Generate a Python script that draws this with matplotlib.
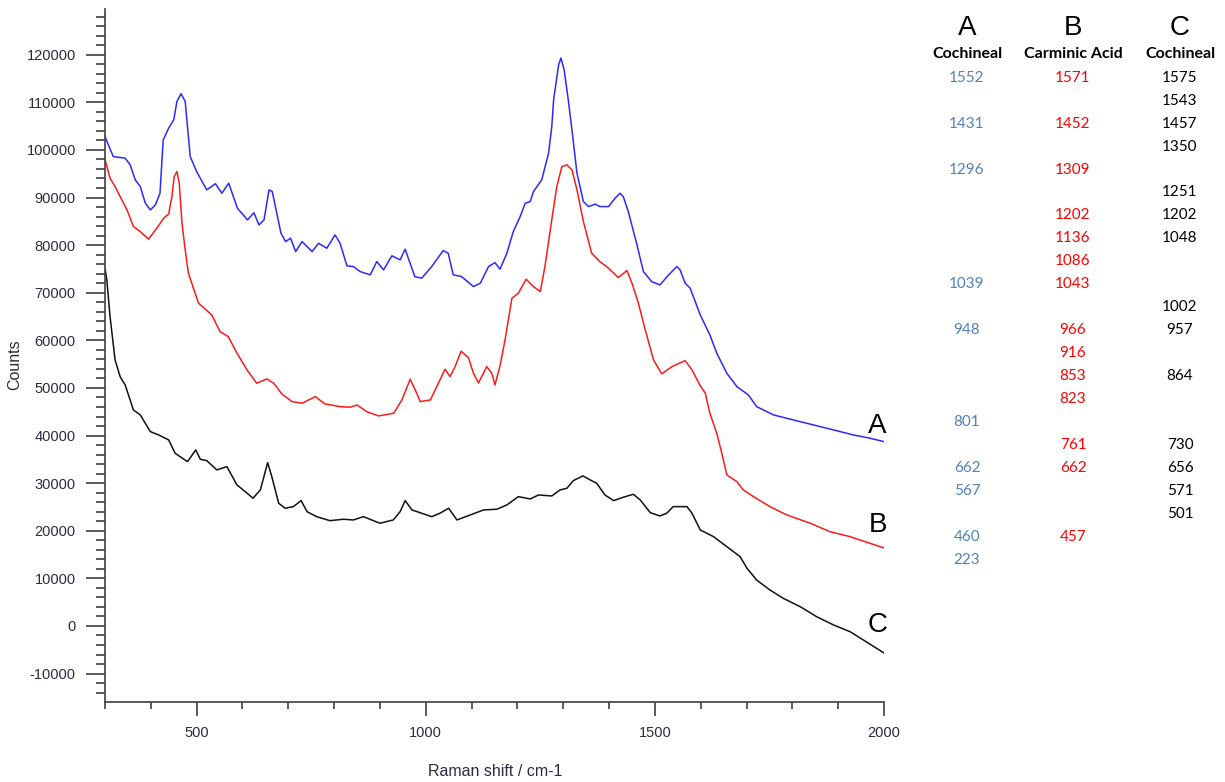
import numpy as np
import matplotlib
matplotlib.use("Agg")
import matplotlib.pyplot as plt
from matplotlib.ticker import MultipleLocator

plt.rcParams["axes.unicode_minus"] = False

# Raman spectra (Raman shift in cm-1, counts)
# A - cochineal (blue)
blue_x = [300, 318, 344, 355, 366, 377, 388, 399, 410, 420, 427, 439, 450, 457,
          466, 475, 486, 500, 522, 541, 555, 570, 589, 611, 625, 636, 647, 658,
          665, 684, 694, 705, 716, 730, 752, 766, 784, 802, 813, 828, 842, 857,
          879, 893, 908, 926, 944, 955, 976, 991, 1013, 1038, 1049, 1060, 1078,
          1104, 1119, 1137, 1151, 1162, 1177, 1191, 1206, 1217, 1228, 1235, 1253,
          1268, 1275, 1279, 1290, 1295, 1302, 1311, 1319, 1330, 1344, 1355, 1370,
          1380, 1399, 1413, 1424, 1431, 1442, 1460, 1475, 1493, 1511, 1530, 1548,
          1555, 1566, 1577, 1599, 1620, 1635, 1657, 1679, 1704, 1722, 1759, 1802,
          1846, 1890, 1933, 1970, 2000]
blue_y = [102800, 98600, 98260, 96860, 93700, 92300, 88800, 87400, 88450, 90900,
          102100, 104600, 106300, 110200, 111800, 110200, 98600, 95450, 91600,
          92900, 90900, 93000, 87750, 85300, 86800, 84250, 85300, 91600, 91250,
          82500, 80750, 81450, 78640, 80750, 78640, 80400, 79350, 82150, 80400,
          75650, 75500, 74440, 73750, 76550, 74800, 77750, 76900, 79150, 73400,
          73050, 75500, 78850, 78300, 73750, 73400, 71300, 72000, 75500, 76330,
          74940, 78300, 82840, 86000, 88800, 89150, 91250, 93700, 99300, 104900,
          110500, 117900, 119300, 116800, 110500, 104200, 95100, 89150, 88100,
          88600, 88100, 88100, 89850, 90900, 90200, 87050, 80400, 74440, 72340,
          71640, 73750, 75500, 74800, 72000, 70950, 65340, 61140, 57300, 53090,
          50280, 48530, 46080, 44330, 43280, 42230, 41180, 40130, 39430, 38720]

# B - carminic acid (red)
red_x = [300, 311, 322, 333, 348, 362, 377, 395, 413, 428, 439, 446, 451, 457,
         462, 468, 475, 482, 504, 533, 551, 569, 588, 610, 631, 653, 668, 686,
         708, 730, 759, 780, 813, 835, 850, 871, 897, 930, 948, 966, 977, 988,
         1010, 1024, 1042, 1053, 1064, 1077, 1093, 1104, 1115, 1133, 1144, 1151,
         1162, 1173, 1188, 1202, 1219, 1235, 1250, 1260, 1275, 1286, 1297, 1308,
         1319, 1330, 1344, 1362, 1380, 1399, 1420, 1439, 1450, 1464, 1479, 1497,
         1515, 1537, 1566, 1581, 1599, 1610, 1620, 1635, 1646, 1657, 1679, 1693,
         1715, 1751, 1788, 1839, 1882, 1926, 2000]
red_y = [98000, 94060, 92300, 90200, 87400, 83900, 82840, 81250, 83550, 85650,
         86560, 90200, 94400, 95450, 93000, 84600, 79000, 74100, 67800, 65340,
         61830, 60780, 57300, 53790, 50990, 51900, 50990, 48740, 47130, 46790,
         48180, 46640, 46080, 45950, 46430, 45020, 44120, 44690, 47480, 51830,
         49580, 47130, 47480, 50280, 53930, 52380, 54480, 57700, 56400, 53090,
         51050, 54480, 53090, 50630, 54660, 60090, 68850, 69900, 72840, 71290,
         70240, 75500, 85300, 92300, 96500, 96860, 95800, 91600, 84950, 78300,
         76540, 75150, 73180, 74650, 72000, 67800, 62190, 55890, 52950, 54480,
         55740, 53790, 50450, 48900, 44690, 40490, 36280, 31730, 30320, 28570,
         27170, 25070, 23320, 21580, 19810, 18760, 16390]

# C - cochineal (black)
black_x = [300, 304, 311, 322, 333, 344, 362, 377, 399, 417, 439, 453, 480, 498,
           508, 522, 544, 566, 588, 606, 623, 639, 655, 664, 679, 693, 711, 728,
           741, 762, 791, 820, 842, 864, 900, 929, 944, 955, 970, 991, 1013, 1031,
           1050, 1068, 1097, 1126, 1155, 1177, 1202, 1228, 1246, 1275, 1293, 1308,
           1322, 1343, 1359, 1373, 1391, 1410, 1431, 1453, 1468, 1490, 1511, 1526,
           1540, 1570, 1581, 1599, 1628, 1657, 1686, 1701, 1722, 1751, 1780, 1817,
           1853, 1890, 1926, 2000]
black_y = [75150, 72700, 65000, 55890, 52380, 50630, 45380, 44330, 40820, 40130,
           39080, 36280, 34520, 36980, 35020, 34730, 32780, 33470, 29620, 28220,
           26830, 28570, 34310, 31370, 25780, 24730, 25070, 26330, 24010, 22960,
           22120, 22420, 22270, 22960, 21580, 22270, 24010, 26330, 24370, 23680,
           22960, 23680, 24730, 22270, 23320, 24370, 24520, 25420, 27170, 26680,
           27520, 27310, 28570, 28930, 30530, 31520, 30670, 29980, 27520, 26330,
           27040, 27670, 26470, 23800, 23110, 23680, 25070, 25070, 23680, 20170,
           18760, 16660, 14560, 12120, 9660, 7560, 5820, 4060, 1950, 210, -1200,
           -5670]

# Peak assignment table
col_letters = ["A", "B", "C"]
col_names = ["Cochineal", "Carminic Acid", "Cochineal"]
peaks_a = ["1552", "", "1431", "", "1296", "", "", "", "", "1039", "", "948", "",
           "", "", "801", "", "662", "567", "", "460", "223"]
peaks_b = ["1571", "", "1452", "", "1309", "", "1202", "1136", "1086", "1043", "",
           "966", "916", "853", "823", "", "761", "662", "", "", "457", ""]
peaks_c = ["1575", "1543", "1457", "1350", "", "1251", "1202", "1048", "", "",
           "1002", "957", "", "864", "", "", "730", "656", "571", "501", "", ""]

W, H = 1225, 782
fig = plt.figure(figsize=(W / 100, H / 100), dpi=100)
ax = fig.add_axes([105 / W, 1 - 702 / H, 779 / W, 693 / H])

ax.plot(blue_x, blue_y, color="#2a2aff", lw=1.1)
ax.plot(red_x, red_y, color="#ff1a1a", lw=1.1)
ax.plot(black_x, black_y, color="#111111", lw=1.1)

ax.set_xlim(300, 2000)
ax.set_ylim(-15970, 129600)

for s in ["top", "right"]:
    ax.spines[s].set_visible(False)
for s in ["left", "bottom"]:
    ax.spines[s].set_color("#404040")
    ax.spines[s].set_linewidth(1.2)

ax.xaxis.set_major_locator(MultipleLocator(500))
ax.xaxis.set_minor_locator(MultipleLocator(100))
ax.yaxis.set_major_locator(MultipleLocator(10000))
ax.yaxis.set_minor_locator(MultipleLocator(2000))

tick_font = "Liberation Sans"
ax.tick_params(axis="y", which="major", direction="out", length=14, width=1.2,
               color="#404040", pad=7, labelsize=10.5, labelcolor="#2b2b40")
ax.tick_params(axis="y", which="minor", direction="out", length=6.5, width=1.2,
               color="#404040")
ax.tick_params(axis="x", which="major", direction="out", length=10, width=1.2,
               color="#404040", pad=7, labelsize=10.5, labelcolor="#2b2b40")
ax.tick_params(axis="x", which="minor", direction="out", length=5, width=1.2,
               color="#404040")

ax.set_xticks([500, 1000, 1500, 2000])
ax.set_yticks(range(-10000, 120001, 10000))
for lbl in ax.get_xticklabels() + ax.get_yticklabels():
    lbl.set_fontfamily(tick_font)

fig.text(15 / W, 1 - 365 / H, "Counts", rotation=90, ha="center", va="center",
         fontsize=11.5, family=tick_font, color="#2b2b40")
fig.text(495 / W, 1 - 771 / H, "Raman shift / cm-1", ha="center", va="center",
         fontsize=11.5, family=tick_font, color="#2b2b40")

# curve letters
for letter, y in zip(col_letters, [40550, 19750, -1300]):
    ax.text(1986, y, letter, ha="center", va="baseline", fontsize=20,
            family=tick_font, color="black")

# table to the right of the plot
col_x = [967, 1073, 1180]
col_colors = ["#4f81bd", "#ff0000", "#000000"]
table_font = "Lato"
for cx, letter, name in zip(col_x, col_letters, col_names):
    fig.text(cx / W, 1 - 35 / H, letter, ha="center", va="baseline", fontsize=20,
             family=tick_font, color="black")
    fig.text(cx / W, 1 - 58 / H, name, ha="center", va="baseline", fontsize=11.5,
             family=table_font, weight="bold", color="black")

for cx, color, peaks in zip(col_x, col_colors, [peaks_a, peaks_b, peaks_c]):
    for i, p in enumerate(peaks):
        if p:
            fig.text(cx / W, 1 - (81.7 + i * 22.95) / H, p, ha="center",
                     va="baseline", fontsize=11, family=table_font, color=color)

fig.savefig("out.png", dpi=100)
